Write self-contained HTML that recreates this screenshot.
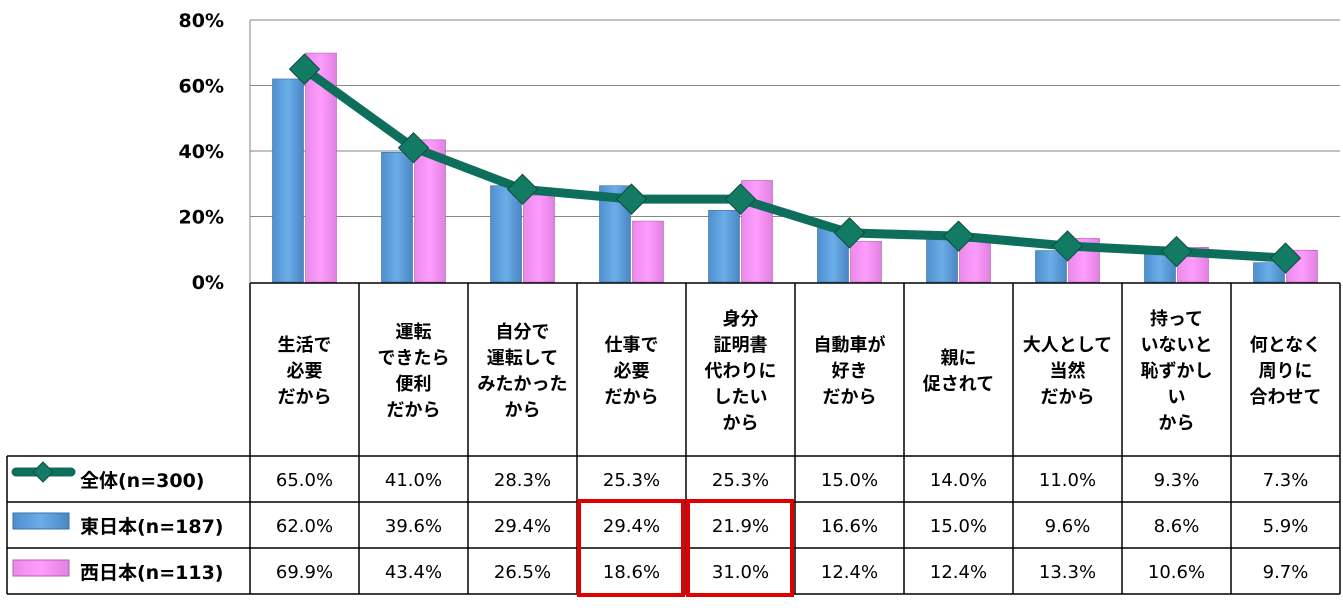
<!DOCTYPE html>
<html><head><meta charset="utf-8"><style>
body{margin:0;background:#fff;font-family:"DejaVu Sans","Noto Sans CJK JP",sans-serif}
svg text{font-family:"DejaVu Sans","Noto Sans CJK JP",sans-serif;font-weight:bold}
</style></head><body>
<svg id="c" width="1343" height="604"></svg>
<script>
const categories=[["生活で","必要","だから"],["運転","できたら","便利","だから"],["自分で","運転して","みたかった","から"],["仕事で","必要","だから"],["身分","証明書","代わりに","したい","から"],["自動車が","好き","だから"],["親に","促されて"],["大人として","当然","だから"],["持って","いないと","恥ずかし","い","から"],["何となく","周りに","合わせて"]];
const totalVals=[65.0,41.0,28.3,25.3,25.3,15.0,14.0,11.0,9.3,7.3];
const eastVals=[62.0,39.6,29.4,29.4,21.9,16.6,15.0,9.6,8.6,5.9];
const westVals=[69.9,43.4,26.5,18.6,31.0,12.4,12.4,13.3,10.6,9.7];
const yTicks=[0,20,40,60,80];
const seriesNames=["全体(n=300)","東日本(n=187)","西日本(n=113)"];
const NS="http://www.w3.org/2000/svg",svg=document.getElementById('c');
function el(t,a,p){const e=document.createElementNS(NS,t);for(const k in a)e.setAttribute(k,a[k]);(p||svg).appendChild(e);return e;}
const X0=250,CW=109,Y0=282,PX=3.275;
const y=v=>Y0-v*PX, cx=i=>X0+CW*i+CW/2;
const defs=el('defs',{});
function grad(id,c1,c2,c3){const g=el('linearGradient',{id,x1:0,x2:1,y1:0,y2:0},defs);
[[0,c1],[0.5,c2],[1,c3]].forEach(s=>el('stop',{offset:s[0],'stop-color':s[1]},g));}
grad('gb','#4f8fcf','#6aaee8','#4a86c4');grad('gp','#e98ae9','#ff9dff','#e080e0');
yTicks.forEach(t=>{
 if(t>0){const g=el('line',{x1:X0,x2:1340,y1:y(t),y2:y(t),stroke:'#868686','stroke-width':1});
 }
 const tx=el('text',{x:224,y:y(t)+7,'text-anchor':'end','font-size':19});tx.textContent=t+'%';
 
});
el('line',{x1:X0,x2:X0,y1:20,y2:Y0,stroke:'#868686'});
categories.forEach((c,i)=>{
 const b=el('rect',{x:cx(i)-32,y:y(eastVals[i]),width:31,height:eastVals[i]*PX,fill:'url(#gb)',stroke:'#3d6fa3','stroke-width':0.6});
 
 const p=el('rect',{x:cx(i)+1,y:y(westVals[i]),width:31,height:westVals[i]*PX,fill:'url(#gp)',stroke:'#b060b0','stroke-width':0.6});
 
});
const ln=el('polyline',{points:totalVals.map((v,i)=>cx(i)+','+y(v)).join(' '),fill:'none',stroke:'#0e6e5c','stroke-width':9,'stroke-linejoin':'round'});

totalVals.forEach((v,i)=>{const d=el('polygon',{points:`${cx(i)},${y(v)-15} ${cx(i)+15},${y(v)} ${cx(i)},${y(v)+15} ${cx(i)-15},${y(v)}`,fill:'#137a63',stroke:'#0a4f40','stroke-width':1});
});
const rows=[283,456,502,548,594];
const T=el('g',{stroke:'#000','stroke-width':1.5,fill:'none'});
el('line',{x1:7,x2:1340,y1:456,y2:456},T);el('line',{x1:7,x2:1340,y1:502,y2:502},T);el('line',{x1:7,x2:1340,y1:548,y2:548},T);el('line',{x1:7,x2:1340,y1:594,y2:594},T);
el('line',{x1:X0,x2:1340,y1:283,y2:283},T);el('line',{x1:7,x2:7,y1:456,y2:594},T);
for(let i=0;i<=10;i++)el('line',{x1:X0+CW*i,x2:X0+CW*i,y1:283,y2:594},T);
categories.forEach((c,i)=>{const lh=26,top=370-(c.length-1)*lh/2+7;
 c.forEach((s,j)=>{const t=el('text',{x:cx(i),y:top+j*lh,'text-anchor':'middle','font-size':18});t.textContent=s;
 });});
[totalVals,eastVals,westVals].forEach((arr,r)=>{arr.forEach((v,i)=>{const t=el('text',{x:cx(i),y:rows[r+1]+30,'text-anchor':'middle','font-size':18});
 t.style.fontWeight='normal';t.textContent=v.toFixed(1)+'%';});
 const t=el('text',{x:80,y:rows[r+1]+31,'font-size':19});t.textContent=seriesNames[r];
 });
const k1=el('g',{});
el('line',{x1:16,x2:71,y1:472,y2:472,stroke:'#0e6e5c','stroke-width':9,'stroke-linecap':'round'},k1);
el('polygon',{points:'43,462 53,472 43,482 33,472',fill:'#137a63',stroke:'#0a4f40'},k1);
const k2=el('rect',{x:13,y:513,width:56,height:16,fill:'url(#gb)',stroke:'#3d6fa3'});
const k3=el('rect',{x:13,y:560,width:56,height:16,fill:'url(#gp)',stroke:'#b060b0'});
[[579,683],[688,792]].forEach((b,i)=>{const r=el('rect',{x:b[0],y:501,width:b[1]-b[0],height:94,fill:'none',stroke:'#e00000','stroke-width':4});
});
</script>
</body></html>
